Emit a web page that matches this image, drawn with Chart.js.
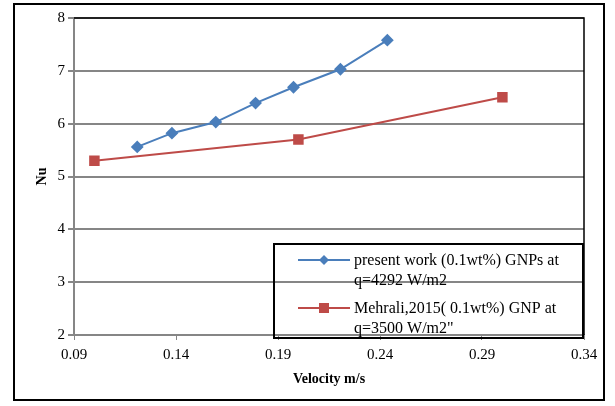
<!DOCTYPE html>
<html>
<head>
<meta charset="utf-8">
<script src="https://cdn.jsdelivr.net/npm/chart.js@4/dist/chart.umd.min.js"></script>
<style>
  html, body { margin: 0; padding: 0; background: #fff; }
  #wrap { width: 615px; height: 406px; position: relative; }
</style>
</head>
<body>
<div id="wrap"><canvas id="chart" width="615" height="406"></canvas></div>
<script>
// series
const presentVelocity = [0.121, 0.138, 0.1595, 0.179, 0.1976, 0.2206, 0.2436];
const presentNu = [5.56, 5.82, 6.03, 6.39, 6.69, 7.03, 7.58];
const mehraliVelocity = [0.10, 0.20, 0.30];
const mehraliNu = [5.30, 5.70, 6.50];

const xTicks = [0.09, 0.14, 0.19, 0.24, 0.29, 0.34];
const yTicks = [2, 3, 4, 5, 6, 7, 8];

const legendLabels = [
    ['present work (0.1wt%) GNPs at', 'q=4292 W/m2'],
    ['Mehrali,2015( 0.1wt%) GNP at', 'q=3500 W/m2"']
];

const BLUE = '#4A7EBB';
const RED = '#BE4B48';
const SERIF = '"Liberation Serif", "Times New Roman", serif';

function toPoints(xs, ys) {
    return xs.map((x, i) => ({ x: x, y: ys[i] }));
}

// outer frame, black top/right of plot, and the boxed legend
const decorations = {
    id: 'decorations',
    beforeDraw(chart) {
        const ctx = chart.ctx;
        ctx.save();
        ctx.fillStyle = '#fff';
        ctx.fillRect(0, 0, chart.width, chart.height);
        ctx.strokeStyle = '#000';
        ctx.lineWidth = 2;
        ctx.strokeRect(14, 4, 590, 396);
        ctx.restore();
    },
    afterDatasetsDraw(chart) {
        const ctx = chart.ctx;
        const a = chart.chartArea;
        ctx.save();
        ctx.strokeStyle = '#000';
        ctx.lineWidth = 1.5;
        ctx.beginPath();
        ctx.moveTo(a.left, a.top);
        ctx.lineTo(a.right, a.top);
        ctx.lineTo(a.right, a.bottom);
        ctx.stroke();

        // legend box
        const box = { left: a.left + 200, top: a.bottom - 91, right: a.right - 1, bottom: a.bottom + 3 };
        ctx.lineWidth = 2;
        ctx.strokeRect(box.left, box.top, box.right - box.left, box.bottom - box.top);

        ctx.font = '16px ' + SERIF;
        ctx.fillStyle = '#000';
        ctx.textBaseline = 'middle';
        chart.data.datasets.forEach((ds, i) => {
            const rowY = box.top + 16 + i * 48;
            const x0 = box.left + 24, x1 = box.left + 76;
            ctx.strokeStyle = ds.borderColor;
            ctx.lineWidth = 2;
            ctx.beginPath();
            ctx.moveTo(x0, rowY);
            ctx.lineTo(x1, rowY);
            ctx.stroke();
            ctx.fillStyle = ds.backgroundColor;
            const cx = (x0 + x1) / 2;
            if (ds.pointStyle === 'rectRot') {
                ctx.beginPath();
                ctx.moveTo(cx, rowY - 5);
                ctx.lineTo(cx + 5, rowY);
                ctx.lineTo(cx, rowY + 5);
                ctx.lineTo(cx - 5, rowY);
                ctx.closePath();
                ctx.fill();
            } else {
                ctx.fillRect(cx - 5, rowY - 5, 10, 10);
            }
            ctx.fillStyle = '#000';
            legendLabels[i].forEach((line, j) => {
                ctx.fillText(line, x1 + 4, rowY + 1 + j * 20);
            });
        });
        ctx.restore();
    }
};

new Chart(document.getElementById('chart'), {
    type: 'scatter',
    data: {
        datasets: [
            {
                label: legendLabels[0].join(' '),
                data: toPoints(presentVelocity, presentNu),
                showLine: true,
                borderColor: BLUE,
                backgroundColor: BLUE,
                borderWidth: 2,
                pointStyle: 'rectRot',
                pointRadius: 5,
                pointHoverRadius: 5
            },
            {
                label: legendLabels[1].join(' '),
                data: toPoints(mehraliVelocity, mehraliNu),
                showLine: true,
                borderColor: RED,
                backgroundColor: RED,
                borderWidth: 2,
                pointStyle: 'rect',
                pointRadius: 6,
                pointHoverRadius: 6
            }
        ]
    },
    options: {
        responsive: false,
        animation: false,
        devicePixelRatio: 1,
        layout: { padding: { left: 30, right: 31, top: 18, bottom: 14 } },
        plugins: {
            legend: { display: false },
            tooltip: { enabled: false }
        },
        scales: {
            x: {
                type: 'linear',
                min: 0.09,
                max: 0.34,
                afterBuildTicks(scale) {
                    scale.ticks = xTicks.map(v => ({ value: v }));
                },
                afterFit(scale) { scale.height = 57; },
                grid: {
                    drawOnChartArea: false,
                    drawTicks: true,
                    tickLength: 5,
                    color: '#868686'
                },
                border: { color: '#868686', width: 2 },
                ticks: {
                    color: '#000',
                    font: { family: SERIF, size: 15 },
                    padding: 6,
                    maxRotation: 0,
                    callback: v => v.toFixed(2)
                },
                title: {
                    display: true,
                    text: 'Velocity m/s',
                    color: '#000',
                    font: { family: SERIF, size: 14, weight: 'bold' },
                    padding: { top: 4 }
                }
            },
            y: {
                min: 2,
                max: 8,
                afterBuildTicks(scale) {
                    scale.ticks = yTicks.map(v => ({ value: v }));
                },
                afterFit(scale) { scale.width = 44; },
                grid: {
                    color: '#868686',
                    lineWidth: 2,
                    tickLength: 6
                },
                border: { color: '#868686', width: 2 },
                ticks: {
                    color: '#000',
                    font: { family: SERIF, size: 15 },
                    padding: 3
                },
                title: {
                    display: true,
                    text: 'Nu',
                    color: '#000',
                    font: { family: SERIF, size: 14, weight: 'bold' },
                    padding: { bottom: 4 }
                }
            }
        }
    },
    plugins: [decorations]
});
</script>
</body>
</html>
